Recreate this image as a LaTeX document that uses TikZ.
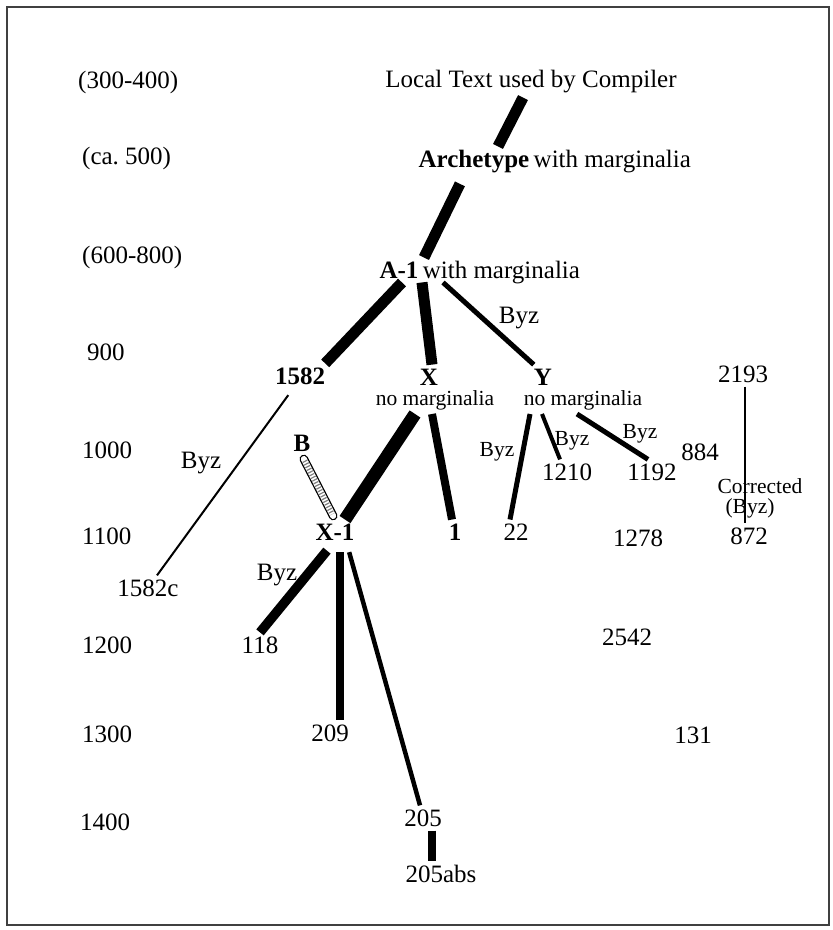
\documentclass[tikz,border=0pt]{standalone}
\usepackage{fontspec}
\setmainfont{Liberation Serif}
\usepackage{tikz}
\frenchspacing

\tikzset{
	every node/.style={font=\fontsize{25}{29}\selectfont, inner sep=4pt},
	ms/.style={font=\fontsize{25}{29}\selectfont\bfseries},
	note/.style={font=\fontsize{21.5}{25}\selectfont},
	year/.style={anchor=west},
	wide link/.style={line width=11pt},
	mid link/.style={line width=8pt},
	narrow link/.style={line width=5pt},
	hair link/.style={line width=2pt},
	capsule/.style={line width=1.3pt, double=white, double distance=6pt, line cap=round, shorten <=4pt, shorten >=4pt},
	hatch/.style={draw=gray, line width=5.5pt, dash pattern=on 1.2pt off 1.8pt, shorten <=6pt, shorten >=6pt}
}

\begin{document}
\begin{tikzpicture}[x=1pt, y=-1pt]
	\useasboundingbox (0,0) rectangle (833,930);
	\draw[line width=1.5pt, black!75] (7,7) rectangle (829,925);
	% dates
	\node[year] (y300) at (74,82) {(300-400)};
	\node[year] (y500) at (78,158) {(ca. 500)};
	\node[year] (y600) at (78,257) {(600-800)};
	\node[year] (y900) at (83,352) {900};
	\node[year] (y1000) at (78,450) {1000};
	\node[year] (y1100) at (78,536) {1100};
	\node[year] (y1200) at (78,645) {1200};
	\node[year] (y1300) at (78,734) {1300};
	\node[year] (y1400) at (76,822) {1400};
	% manuscripts
	\node (local) at (531,82) {Local Text used by Compiler};
	\node[ms] (arche) at (474,162) {Archetype};
	\node[anchor=base west] (archew) at ([xshift=-4pt]arche.base east) {with marginalia};
	\node[ms] (a1) at (399,270) {A-1};
	\node[anchor=base west] (a1w) at ([xshift=-4pt]a1.base east) {with marginalia};
	\node[ms] (m1582) at (300,376) {1582};
	\node[ms] (x) at (429,377) {X};
	\node[note] (xnote) at (435,400) {no marginalia};
	\node[ms] (y) at (543,377) {Y};
	\node[note] (ynote) at (583,400) {no marginalia};
	\node (m2193) at (743,374) {2193};
	\node[ms] (b) at (302,443) {B};
	\node (m884) at (700,452) {884};
	\node (m1210) at (567,472) {1210};
	\node (m1192) at (652,472) {1192};
	\node[note] (corr) at (760,486) {Corrected};
	\node[note] (corrbyz) at (750,508) {(Byz)};
	\node[ms] (x1) at (335,532) {X-1};
	\node[ms] (m1) at (455,532) {1};
	\node (m22) at (516,532) {22};
	\node (m1278) at (638,538) {1278};
	\node (m872) at (749,536) {872};
	\node (m1582c) at (148,588) {1582c};
	\node (m118) at (260,645) {118};
	\node (m2542) at (627,637) {2542};
	\node (m209) at (330,733) {209};
	\node (m131) at (693,735) {131};
	\node (m205) at (423,818) {205};
	\node (m205abs) at (441,874) {205abs};
	% Byz readings
	\node (byza1) at (519,318) {Byz};
	\node (byz1582) at (201,463) {Byz};
	\node[note] (byz22) at (497,452) {Byz};
	\node[note] (byz1210) at (572,441) {Byz};
	\node[note] (byz1192) at (640,434) {Byz};
	\node (byz118) at (277,575) {Byz};
	% links
	\draw[wide link] ([xshift=-8pt]local.south) -- ([xshift=24pt]arche.north);
	\draw[wide link, shorten <=7pt] ([xshift=-11pt]arche.south) -- ([xshift=25pt]a1.north);
	\draw[wide link] ([xshift=3pt]a1.south) -- ([xshift=-4pt]m1582.north east);
	\draw[wide link] ([xshift=23pt]a1.south) -- ([xshift=3pt]x.north);
	\draw[narrow link] ([xshift=44pt]a1.south) -- ([xshift=4pt]y.north west);
	\draw[hair link, shorten <=8pt] ([xshift=-7pt]m1582.south) -- ([xshift=9pt]m1582c.north);
	\draw[wide link, line width=13pt] ([xshift=-20pt]xnote.south) -- ([xshift=10pt]x1.north);
	\draw[mid link] ([xshift=-3pt]xnote.south) -- ([xshift=-3pt]m1.north);
	\draw[capsule] (b.south) -- (x1.north);
	\draw[hatch] (b.south) -- (x1.north);
	\draw[narrow link] ([xshift=-53pt]ynote.south) -- ([xshift=-6pt]m22.north);
	\draw[narrow link, line width=4pt] ([xshift=-41pt]ynote.south) -- ([xshift=-7pt]m1210.north);
	\draw[narrow link] ([xshift=-6pt]ynote.south) -- ([xshift=-4pt]m1192.north);
	\draw[hair link] ([xshift=2pt]m2193.south) -- ([xshift=-4pt]m872.north);
	\draw[mid link, line width=9.5pt, shorten <=8pt] ([xshift=-3pt]x1.south) -- (m118.north);
	\draw[mid link, shorten <=8pt] ([xshift=5pt]x1.south) -- ([xshift=10pt]m209.north);
	\draw[narrow link, line width=4.5pt, shorten <=8pt] ([xshift=12pt]x1.south) -- ([xshift=-3pt]m205.north);
	\draw[mid link] ([xshift=9pt]m205.south) -- ([xshift=-9pt]m205abs.north);
\end{tikzpicture}
\end{document}
